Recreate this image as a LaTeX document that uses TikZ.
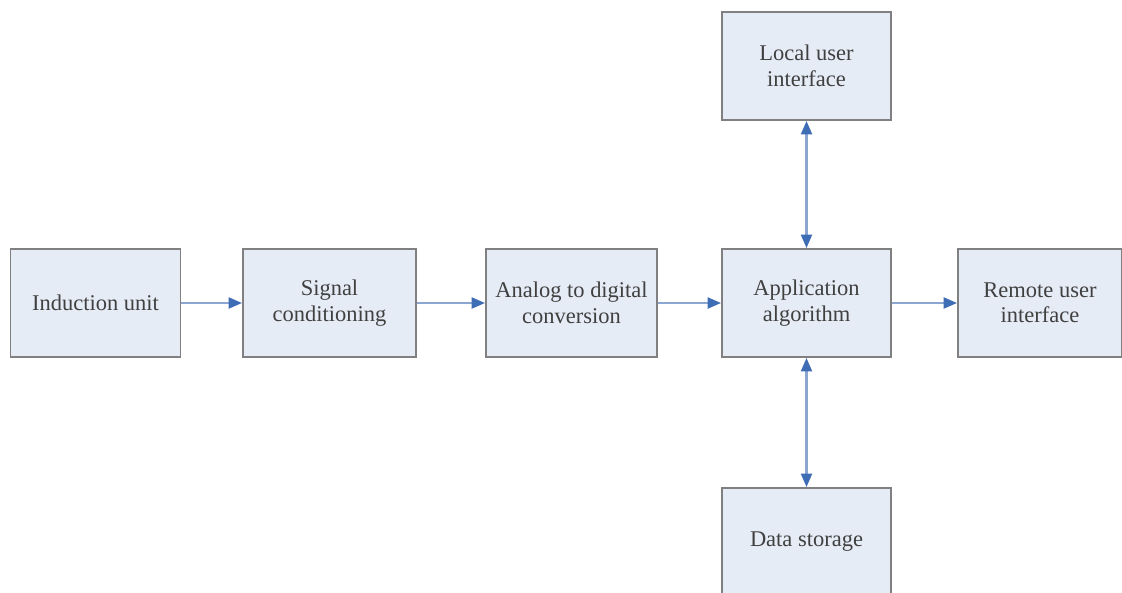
\documentclass[tikz,border=0pt]{standalone}
\usepackage{fontspec}
\setmainfont{Liberation Serif}
\usetikzlibrary{arrows.meta}

\definecolor{boxfill}{HTML}{E6ECF6}
\definecolor{boxline}{HTML}{808080}
\definecolor{linkline}{HTML}{8CA6D2}
\definecolor{linkhead}{HTML}{3F6DB5}

\begin{document}
\begin{tikzpicture}[x=0.02cm, y=-0.02cm,
  block/.style={draw=boxline, line width=1.1pt, fill=boxfill, minimum width=3.4cm,
    minimum height=2.16cm, align=center, text=black!75,
    font=\fontsize{12.8}{14.5}\selectfont},
  link/.style={draw=linkline, line width=1.3pt,
    -{Triangle[length=0.27cm, width=0.22cm, color=linkhead]}},
  duallink/.style={draw=linkline, line width=1.3pt,
    {Triangle[length=0.27cm, width=0.22cm, color=linkhead]}-{Triangle[length=0.27cm, width=0.22cm, color=linkhead]}}]

\useasboundingbox (0,0) rectangle (1122,592);

% main row
\node[block] (induction) at (95.5,303) {Induction unit};
\node[block, minimum width=3.46cm] (signal) at (329.5,303) {Signal\\conditioning};
\node[block, minimum width=3.42cm] (adc) at (571.5,303) {Analog to digital\\conversion};
\node[block, minimum width=3.38cm] (algo) at (806.5,303) {Application\\algorithm};
\node[block, minimum width=3.28cm] (remote) at (1040,303) {Remote user\\interface};

% side boxes
\node[block, minimum width=3.38cm] (local) at (806.5,66) {Local user\\interface};
\node[block, minimum width=3.38cm] (storage) at (806.5,542) {Data storage};

\draw[link] (induction) -- (signal);
\draw[link] (signal) -- (adc);
\draw[link] (adc) -- (algo);
\draw[link] (algo) -- (remote);
\draw[duallink] (local) -- (algo);
\draw[duallink] (algo) -- (storage);

\end{tikzpicture}
\end{document}
